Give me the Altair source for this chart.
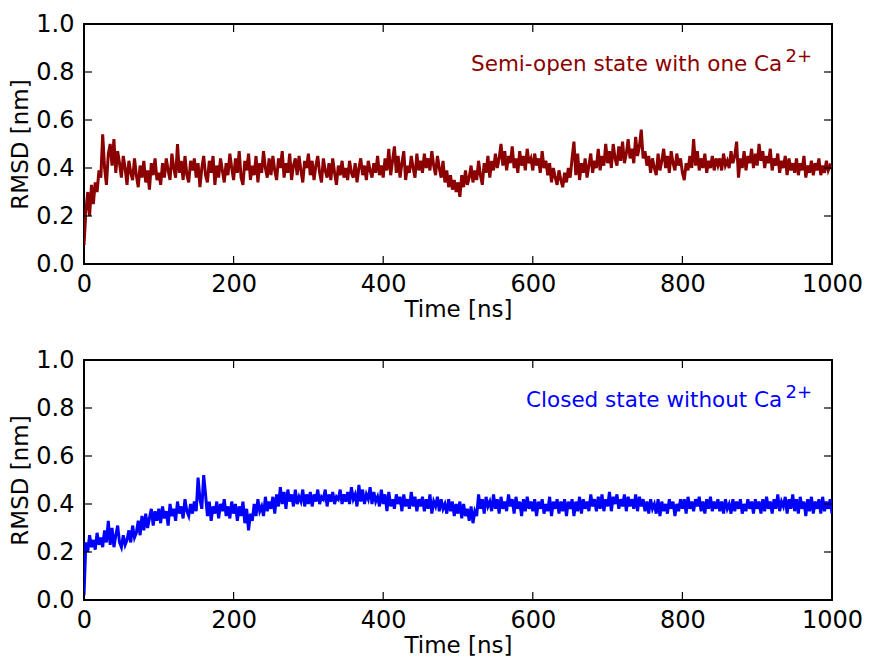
import altair as alt
import pandas as pd

# ---- data (2.5 ns spacing, 0 .. 1000 ns) ----
STEP_NS = 2.5

red_semi_open = [
    0.08, 0.22, 0.30, 0.20, 0.33, 0.25, 0.34, 0.30, 0.39, 0.36, 0.54, 0.40, 0.33, 0.46, 0.50, 0.41, 0.52, 0.38, 0.47, 0.42,
    0.36, 0.45, 0.40, 0.33, 0.43, 0.38, 0.35, 0.44, 0.37, 0.32, 0.41, 0.36, 0.43, 0.34, 0.39, 0.31, 0.42, 0.37, 0.44, 0.35,
    0.38, 0.33, 0.42, 0.36, 0.44, 0.39, 0.35, 0.46, 0.40, 0.36, 0.50, 0.38, 0.43, 0.35, 0.45, 0.37, 0.34, 0.43, 0.39, 0.44,
    0.36, 0.42, 0.32, 0.40, 0.45, 0.37, 0.34, 0.43, 0.38, 0.45, 0.33, 0.41, 0.36, 0.44, 0.39, 0.34, 0.42, 0.37, 0.46, 0.40,
    0.35, 0.44, 0.38, 0.47, 0.36, 0.33, 0.43, 0.39, 0.46, 0.35, 0.41, 0.37, 0.45, 0.34, 0.42, 0.38, 0.47, 0.40, 0.36, 0.44,
    0.37, 0.45, 0.39, 0.35, 0.44, 0.40, 0.47, 0.36, 0.42, 0.38, 0.46, 0.35, 0.41, 0.44, 0.37, 0.45, 0.39, 0.34, 0.43, 0.40,
    0.46, 0.37, 0.43, 0.35, 0.41, 0.45, 0.38, 0.34, 0.44, 0.39, 0.36, 0.42, 0.35, 0.44, 0.38, 0.33, 0.41, 0.37, 0.43, 0.36,
    0.40, 0.35, 0.43, 0.38, 0.36, 0.42, 0.34, 0.40, 0.44, 0.37, 0.41, 0.35, 0.43, 0.39, 0.36, 0.42, 0.38, 0.45, 0.37, 0.41,
    0.36, 0.44, 0.39, 0.48, 0.37, 0.43, 0.49, 0.38, 0.45, 0.36, 0.42, 0.47, 0.35, 0.41, 0.38, 0.45, 0.40, 0.36, 0.46, 0.39,
    0.43, 0.38, 0.46, 0.40, 0.44, 0.39, 0.47, 0.41, 0.37, 0.45, 0.40, 0.36, 0.43, 0.34, 0.39, 0.32, 0.37, 0.31, 0.35, 0.30,
    0.34, 0.28, 0.37, 0.32, 0.39, 0.33, 0.36, 0.41, 0.34, 0.39, 0.35, 0.43, 0.37, 0.33, 0.42, 0.38, 0.45, 0.36, 0.43, 0.39,
    0.46, 0.40, 0.44, 0.50, 0.41, 0.47, 0.39, 0.45, 0.42, 0.49, 0.40, 0.44, 0.38, 0.47, 0.41, 0.45, 0.39, 0.48, 0.42, 0.44,
    0.39, 0.46, 0.41, 0.44, 0.38, 0.47, 0.40, 0.43, 0.37, 0.42, 0.34, 0.40, 0.36, 0.33, 0.39, 0.35, 0.32, 0.38, 0.34, 0.40,
    0.36, 0.44, 0.51, 0.37, 0.46, 0.35, 0.42, 0.38, 0.44, 0.36, 0.41, 0.46, 0.38, 0.43, 0.40, 0.48, 0.39, 0.45, 0.41, 0.50,
    0.42, 0.47, 0.40, 0.50, 0.44, 0.41, 0.49, 0.43, 0.51, 0.42, 0.46, 0.52, 0.44, 0.48, 0.42, 0.53, 0.45, 0.49, 0.56, 0.44,
    0.47, 0.41, 0.45, 0.38, 0.44, 0.40, 0.37, 0.46, 0.39, 0.43, 0.48, 0.40, 0.45, 0.38, 0.47, 0.42, 0.39, 0.46, 0.41, 0.44,
    0.38, 0.35, 0.42, 0.39, 0.45, 0.40, 0.52, 0.41, 0.47, 0.39, 0.44, 0.40, 0.46, 0.38, 0.43, 0.40, 0.45, 0.39, 0.44, 0.41,
    0.44, 0.39, 0.46, 0.41, 0.43, 0.40, 0.47, 0.42, 0.45, 0.51, 0.36, 0.44, 0.40, 0.47, 0.39, 0.45, 0.42, 0.48, 0.40, 0.46,
    0.41, 0.50, 0.43, 0.47, 0.40, 0.45, 0.42, 0.48, 0.39, 0.44, 0.41, 0.46, 0.38, 0.43, 0.40, 0.45, 0.37, 0.44, 0.39, 0.42,
    0.38, 0.44, 0.37, 0.42, 0.39, 0.45, 0.36, 0.41, 0.38, 0.43, 0.37, 0.42, 0.39, 0.44, 0.37, 0.41, 0.38, 0.43, 0.39, 0.41,
    0.40,
]

blue_closed = [
    0.02, 0.24, 0.20, 0.27, 0.22, 0.25, 0.21, 0.28, 0.23, 0.26, 0.22, 0.29, 0.24, 0.33, 0.23, 0.30, 0.22, 0.27, 0.31, 0.24,
    0.22, 0.27, 0.23, 0.25, 0.29, 0.24, 0.31, 0.26, 0.28, 0.33, 0.27, 0.35, 0.29, 0.36, 0.30, 0.34, 0.38, 0.31, 0.37, 0.33,
    0.38, 0.32, 0.39, 0.34, 0.37, 0.31, 0.40, 0.35, 0.38, 0.33, 0.41, 0.36, 0.39, 0.34, 0.42, 0.37, 0.35, 0.40, 0.36, 0.41,
    0.37, 0.51, 0.42, 0.38, 0.52, 0.44, 0.35, 0.41, 0.33, 0.39, 0.36, 0.41, 0.34, 0.40, 0.37, 0.42, 0.35, 0.39, 0.34, 0.41,
    0.36, 0.40, 0.33, 0.39, 0.35, 0.41, 0.32, 0.38, 0.29, 0.36, 0.33, 0.40, 0.35, 0.42, 0.37, 0.39, 0.35, 0.43, 0.37, 0.41,
    0.38, 0.43, 0.36, 0.44, 0.39, 0.47, 0.40, 0.45, 0.38, 0.46, 0.41, 0.44, 0.39, 0.46, 0.40, 0.43, 0.41, 0.46, 0.39, 0.44,
    0.40, 0.45, 0.39, 0.44, 0.41, 0.46, 0.40, 0.43, 0.42, 0.46, 0.39, 0.44, 0.41, 0.45, 0.40, 0.43, 0.42, 0.46, 0.40, 0.44,
    0.41, 0.45, 0.40, 0.47, 0.42, 0.44, 0.39, 0.48, 0.41, 0.46, 0.40, 0.44, 0.42, 0.47, 0.40, 0.45, 0.41, 0.43, 0.39, 0.46,
    0.40, 0.44, 0.37, 0.45, 0.39, 0.42, 0.38, 0.44, 0.40, 0.43, 0.37, 0.44, 0.39, 0.42, 0.38, 0.45, 0.39, 0.43, 0.37, 0.42,
    0.39, 0.43, 0.37, 0.42, 0.38, 0.44, 0.36, 0.41, 0.39, 0.43, 0.37, 0.42, 0.38, 0.40, 0.36, 0.42, 0.37, 0.41, 0.35, 0.40,
    0.36, 0.41, 0.34, 0.40, 0.35, 0.38, 0.33, 0.39, 0.32, 0.37, 0.35, 0.44, 0.38, 0.42, 0.36, 0.43, 0.39, 0.41, 0.37, 0.44,
    0.38, 0.42, 0.36, 0.43, 0.38, 0.41, 0.37, 0.44, 0.39, 0.42, 0.36, 0.43, 0.38, 0.41, 0.35, 0.42, 0.37, 0.43, 0.38, 0.41,
    0.37, 0.42, 0.35, 0.41, 0.38, 0.42, 0.36, 0.40, 0.37, 0.43, 0.35, 0.41, 0.38, 0.42, 0.36, 0.41, 0.37, 0.42, 0.35, 0.41,
    0.38, 0.42, 0.35, 0.41, 0.37, 0.43, 0.36, 0.42, 0.38, 0.41, 0.37, 0.44, 0.39, 0.42, 0.37, 0.43, 0.38, 0.44, 0.37, 0.42,
    0.39, 0.45, 0.37, 0.43, 0.40, 0.44, 0.38, 0.42, 0.39, 0.44, 0.37, 0.43, 0.39, 0.42, 0.38, 0.44, 0.37, 0.43, 0.39, 0.42,
    0.37, 0.41, 0.36, 0.42, 0.38, 0.40, 0.36, 0.42, 0.35, 0.41, 0.37, 0.40, 0.36, 0.42, 0.38, 0.41, 0.35, 0.40, 0.37, 0.42,
    0.38, 0.42, 0.36, 0.43, 0.38, 0.41, 0.37, 0.42, 0.39, 0.43, 0.37, 0.41, 0.36, 0.42, 0.38, 0.43, 0.37, 0.41, 0.38, 0.42,
    0.37, 0.41, 0.36, 0.42, 0.38, 0.40, 0.36, 0.42, 0.37, 0.41, 0.38, 0.42, 0.36, 0.40, 0.37, 0.42, 0.38, 0.41, 0.36, 0.42,
    0.38, 0.41, 0.36, 0.42, 0.37, 0.43, 0.38, 0.41, 0.36, 0.42, 0.38, 0.44, 0.37, 0.41, 0.39, 0.43, 0.36, 0.42, 0.38, 0.44,
    0.37, 0.42, 0.36, 0.43, 0.38, 0.41, 0.35, 0.42, 0.37, 0.43, 0.36, 0.41, 0.38, 0.42, 0.36, 0.43, 0.37, 0.41, 0.38, 0.42,
    0.36,
]

x_ticks = [0, 200, 400, 600, 800, 1000]
y_ticks = [0.0, 0.2, 0.4, 0.6, 0.8, 1.0]

labels = ["Semi-open state with one Ca", "Closed state without Ca"]
superscript = "2+"
colors = ["#8b0000", "#0000ff"]

W, H = 748, 240
TICK = 8
FONT = "DejaVu Sans"


def panel(values, color, label):
    df = pd.DataFrame({"t": [i * STEP_NS for i in range(len(values))], "v": values})
    x_enc = alt.X(
        "t:Q",
        scale=alt.Scale(domain=[0, 1000], nice=False, zero=False),
        axis=alt.Axis(title="Time [ns]", values=x_ticks, format="d", labelFlush=False),
    )
    y_enc = alt.Y(
        "v:Q",
        scale=alt.Scale(domain=[0, 1], nice=False),
        axis=alt.Axis(title="RMSD [nm]", values=y_ticks, format=".1f", labelFlush=False),
    )
    line = alt.Chart(df).mark_line(color=color, strokeWidth=3, clip=True).encode(
        x=x_enc, y=y_enc
    )
    xt = pd.DataFrame({"t": x_ticks})
    yt = pd.DataFrame({"v": y_ticks})
    tick_bottom = alt.Chart(xt).mark_rule(color="black", strokeWidth=1.2).encode(
        x=x_enc, y=alt.value(H), y2=alt.value(H - TICK)
    )
    tick_top = alt.Chart(xt).mark_rule(color="black", strokeWidth=1.2).encode(
        x=x_enc, y=alt.value(0), y2=alt.value(TICK)
    )
    tick_left = alt.Chart(yt).mark_rule(color="black", strokeWidth=1.2).encode(
        y=y_enc, x=alt.value(0), x2=alt.value(TICK)
    )
    tick_right = alt.Chart(yt).mark_rule(color="black", strokeWidth=1.2).encode(
        y=y_enc, x=alt.value(W - TICK), x2=alt.value(W)
    )
    ann = pd.DataFrame({"t": [933.5], "v": [0.805], "s": [label]})
    txt = alt.Chart(ann).mark_text(
        align="right", baseline="alphabetic", font=FONT, fontSize=21.5, color=color
    ).encode(x=x_enc, y=y_enc, text="s:N")
    sup = pd.DataFrame({"t": [938.0], "v": [0.843], "s": [superscript]})
    txt_sup = alt.Chart(sup).mark_text(
        align="left", baseline="alphabetic", font=FONT, fontSize=18, color=color
    ).encode(x=x_enc, y=y_enc, text="s:N")
    return alt.layer(
        line, tick_bottom, tick_top, tick_left, tick_right, txt, txt_sup
    ).properties(width=W, height=H)


top = panel(red_semi_open, colors[0], labels[0])
bottom = panel(blue_closed, colors[1], labels[1])

chart = (
    alt.vconcat(top, bottom, spacing=25)
    .properties(
        padding={"left": 0, "top": 3, "right": 0, "bottom": 0},
        background="white",
    )
    .configure_view(stroke="black", strokeWidth=2)
    .configure_axis(
        domain=False,
        ticks=False,
        grid=False,
        labelFont=FONT,
        labelFontSize=24,
        labelColor="black",
        titleFont=FONT,
        titleFontSize=23,
        titleFontWeight="normal",
        titleColor="black",
    )
    .configure_axisX(labelPadding=8, titlePadding=2)
    .configure_axisY(labelPadding=10, titlePadding=3)
)

chart.save("out.html", embed_options={"renderer": "svg", "actions": False})
